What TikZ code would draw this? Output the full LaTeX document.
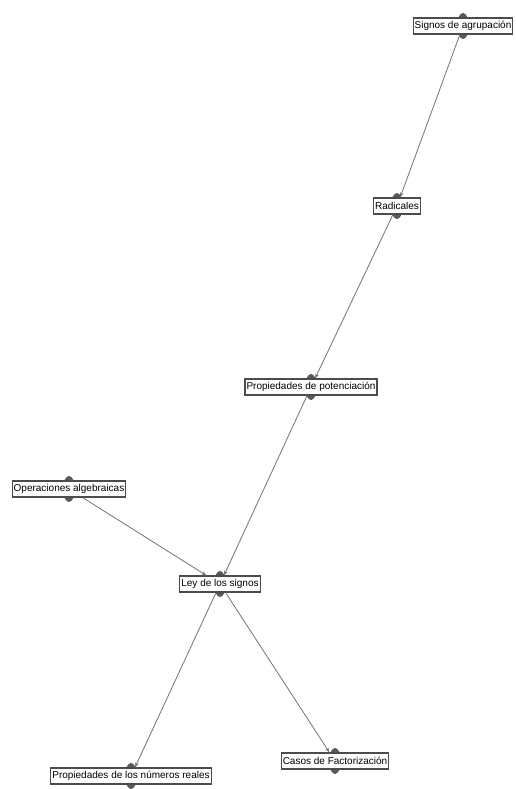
\documentclass[tikz,border=0pt]{standalone}
\usepackage{fontspec}
\setmainfont{Liberation Sans}
\usetikzlibrary{arrows.meta}

\begin{document}
\begin{tikzpicture}[
	x = 1pt, y = -1pt,
	concept/.style = {
	  draw = black!70, line width = 1.1pt, fill = white,
	  font = \fontsize{10}{11}\selectfont,
	  inner sep = 1.5pt, minimum height = 16pt,
	},
	knob/.style = {fill = black!65},
	link/.style = {
	  black!55, line width = 0.8pt,
	  -{Stealth[length = 5pt, width = 3.5pt]},
	},
  ]

  \useasboundingbox (0,0) rectangle (516,789);

  \foreach \name/\x/\y/\label in {
	  signos/463/26/Signos de agrupación,
	  radicales/397/206/Radicales,
	  potencia/311/387/Propiedades de potenciación,
	  operaciones/69/489/Operaciones algebraicas,
	  ley/220/584/Ley de los signos,
	  reales/131/776/Propiedades de los números reales,
	  casos/335/761/Casos de Factorización} {
	\fill[knob] (\x, \y) ellipse (6 and 13);
	\node[concept] (\name) at (\x, \y) {\label};
  }

  \draw[link] (signos) -- (radicales);
  \draw[link] (radicales) -- (potencia);
  \draw[link] (potencia) -- (ley);
  \draw[link] (operaciones) -- (ley);
  \draw[link] (ley) -- (reales);
  \draw[link] (ley) -- (casos);
\end{tikzpicture}
\end{document}
